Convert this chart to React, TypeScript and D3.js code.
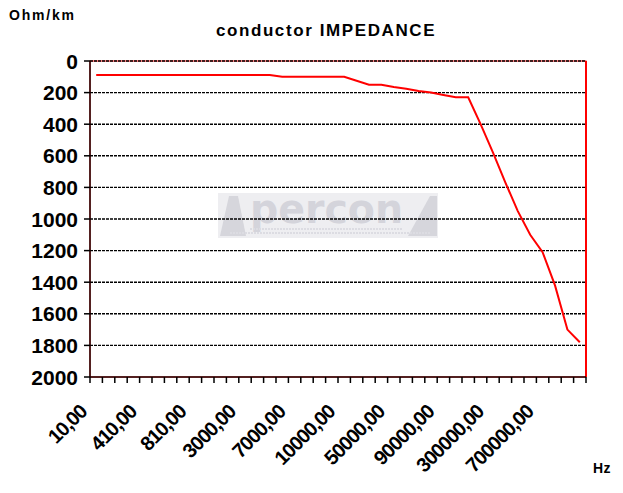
import * as d3 from "d3";

// frequencies (Hz) on the category axis, only every 4th one is labelled
const freqs = [
  10, 110, 210, 310, 410, 510, 610, 710, 810, 910,
  1000, 2000, 3000, 4000, 5000, 6000, 7000, 8000, 9000, 9500,
  10000, 20000, 30000, 40000, 50000, 60000, 70000, 80000, 90000, 100000,
  150000, 200000, 300000, 400000, 500000, 600000, 700000, 800000, 900000, 1000000,
];

// impedance in Ohm/km
const impedance = [
  88, 88, 88, 88, 88, 88, 88, 88, 88, 88,
  88, 88, 88, 88, 88, 100, 100, 100, 100, 100,
  100, 125, 150, 150, 165, 175, 190, 200, 215, 230,
  230, 400, 580, 770, 950, 1100, 1210, 1420, 1700, 1780,
];

const yTicks = [0, 200, 400, 600, 800, 1000, 1200, 1400, 1600, 1800, 2000];

const W = 623;
const H = 493;
const margin = { top: 61, right: 37, bottom: 116, left: 90 };

const fmt = (v: number) => v.toFixed(2).replace(".", ",");

export default function App() {
  const x0 = margin.left;
  const x1 = W - margin.right;
  const y0 = margin.top;
  const y1 = H - margin.bottom;

  const idx = d3.range(freqs.length);
  const x = d3.scaleBand<number>().domain(idx).range([x0, x1]).padding(0);
  const y = d3.scaleLinear().domain([0, 2000]).range([y0, y1]);

  const line = d3
    .line<number>()
    .x((_, i) => (x(i) as number) + x.bandwidth() / 2)
    .y((d) => y(d));

  const boundaries = d3.range(freqs.length + 1).map((i) => x0 + i * x.step());

  const font = "'Liberation Sans', Arial, sans-serif";

  return (
    <svg
      width={W}
      height={H}
      style={{ position: "absolute", left: 0, top: 0, background: "#fff" }}
      fontFamily={font}
    >
      {/* watermark */}
      <g>
        <rect x={218} y={193} width={220} height={45} fill="#eeeef1" />
        <path d="M220,236 L229,196 L238,196 L246,236 Z" fill="#d6d6dc" />
        <path d="M408,236 L430,196 L437,196 L437,236 Z" fill="#d6d6dc" />
        <text x={250} y={223} fontSize={40} fontWeight="bold" fontFamily="'DejaVu Sans', sans-serif"
          fill="#d4d4db" textLength={153} lengthAdjust="spacingAndGlyphs">
          percon
        </text>
        <line x1={250} x2={402} y1={229} y2={229} stroke="#dcdce2" strokeWidth={2} strokeDasharray="2,1" />
        <line x1={230} x2={430} y1={233} y2={233} stroke="#dcdce2" strokeWidth={2} strokeDasharray="2,1" />
      </g>

      {/* plot border */}
      <rect x={x0} y={y0} width={x1 - x0} height={y1 - y0} fill="none" stroke="#ff0000" strokeWidth={1} />
      <line x1={x1} x2={x1} y1={y0} y2={y1} stroke="#ff0000" strokeWidth={2} />

      {/* gridlines */}
      {yTicks.filter((t) => t < 2000).map((t) => (
        <line key={t} x1={x0} x2={x1} y1={y(t)} y2={y(t)} stroke="#000" strokeWidth={1.4} strokeDasharray="3,1" />
      ))}

      {/* axes */}
      <line x1={x0} x2={x0} y1={y0} y2={y1} stroke="#1a0000" strokeWidth={1.5} />
      <line x1={x0} x2={x1} y1={y1} y2={y1} stroke="#1a0000" strokeWidth={1.5} />
      {yTicks.map((t) => (
        <g key={t}>
          <line x1={x0 - 6} x2={x0} y1={y(t)} y2={y(t)} stroke="#000" strokeWidth={1.5} />
          <text x={x0 - 12} y={y(t)} dy="0.36em" textAnchor="end" fontSize={21} fontWeight="bold">
            {t}
          </text>
        </g>
      ))}
      {boundaries.map((b, i) => (
        <line key={i} x1={b} x2={b} y1={y1} y2={y1 + 6} stroke="#000" strokeWidth={1.5} />
      ))}
      {freqs.map((f, i) =>
        i % 4 === 0 ? (
          <text
            key={i}
            transform={`translate(${(x(i) as number) + x.bandwidth() / 2 - 8},${y1 + 36}) rotate(-45)`}
            textAnchor="end"
            fontSize={20}
            fontWeight="bold"
            letterSpacing={-1}
          >
            {fmt(f)}
          </text>
        ) : null
      )}

      {/* series */}
      <path d={line(impedance) as string} fill="none" stroke="#ff0000" strokeWidth={2} />

      {/* titles */}
      <text x={326} y={36} textAnchor="middle" fontSize={17} fontWeight="bold" letterSpacing={1.6}>
        conductor IMPEDANCE
      </text>
      <text x={9} y={20} fontSize={14} fontWeight="bold" letterSpacing={1.8}>
        Ohm/km
      </text>
      <text x={593} y={473} fontSize={14} fontWeight="bold" letterSpacing={0.5}>
        Hz
      </text>
    </svg>
  );
}
